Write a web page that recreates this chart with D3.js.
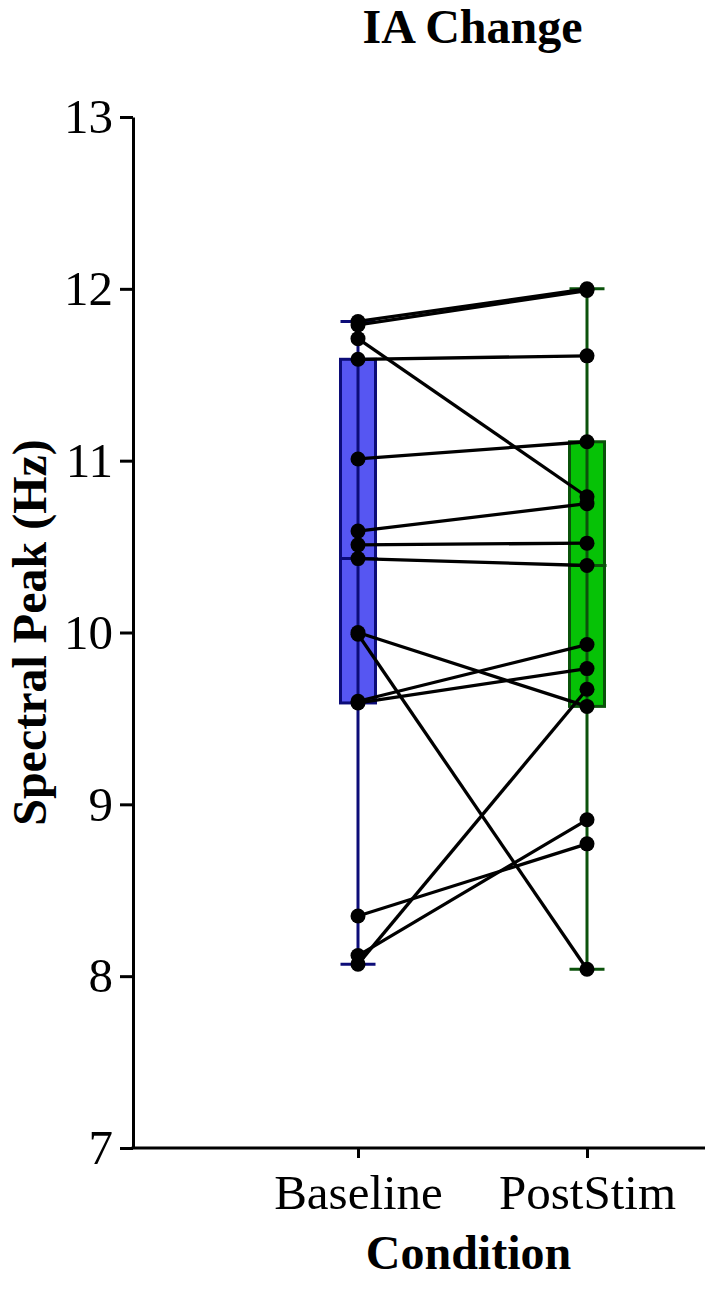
<!DOCTYPE html>
<html lang="en">
	<head>
		<meta charset="utf-8">
		<title>IA Change</title>
		<script src="https://cdn.jsdelivr.net/npm/d3@7"></script>
		<style type="text/css">
			body { margin: 0; background: #fff; }
			text { font-family: "Liberation Serif", "Times New Roman", serif; fill: #000; }
		</style>
	</head>
	<body>

		<div id="chart"></div>

		<script type="text/javascript">

		// paired subjects: baseline[i] -> postStim[i]
		var categories = ["Baseline", "PostStim"]
		var baseline = [11.81, 11.79, 11.71, 11.59, 11.01, 10.59, 10.51, 10.43, 10.00, 9.99, 9.60, 9.59, 8.35, 8.12, 8.07]
		var postStim = [12.00, 11.99, 10.79, 11.61, 11.11, 10.75, 10.52, 10.39, 9.57, 8.04, 9.93, 9.79, 8.77, 8.91, 9.67]
		var yTicks = [7, 8, 9, 10, 11, 12, 13]
		var boxFill = ["#5656f2", "#06c206"]
		var boxStroke = ["#0c0c78", "#0b520b"]

		drawChart()

		function drawChart() {
			var w = 709
			var h = 1300
			var padLeft = 133
			var padRight = 705
			var plotTop = 117
			var plotBottom = 1148
			var boxW = 35
			var r = 7.5

			var svg = d3.select("#chart")
					.append("svg")
					.attr("width", w)
					.attr("height", h)

			var yScale = d3.scaleLinear()
					.domain([7, 13])
					.range([plotBottom, plotTop])

			var xScale = d3.scalePoint()
					.domain(categories)
					.range([358, 587])

			// quartiles the (n+1)p way
			function quart(arr, p) {
				var s = arr.slice().sort(d3.ascending)
				var pos = (s.length + 1) * p - 1
				var lo = Math.floor(pos), hi = Math.ceil(pos)
				return s[lo] + (s[hi] - s[lo]) * (pos - lo)
			}

			var groups = [baseline, postStim].map(function(vals, i) {
				return {
					cat: categories[i],
					min: d3.min(vals),
					q1: quart(vals, 0.25),
					med: quart(vals, 0.5),
					q3: quart(vals, 0.75),
					max: d3.max(vals),
					i: i
				}
			})

			var box = svg.selectAll("g.box")
					.data(groups)
					.enter()
					.append("g")
					.attr("class", "box")

			box.append("rect")
					.attr("x", function(d) { return xScale(d.cat) - boxW / 2 })
					.attr("y", function(d) { return yScale(d.q3) })
					.attr("width", boxW)
					.attr("height", function(d) { return yScale(d.q1) - yScale(d.q3) })
					.style("fill", function(d) { return boxFill[d.i] })
					.style("stroke", function(d) { return boxStroke[d.i] })
					.style("stroke-width", 3)

			box.append("line")
					.attr("x1", function(d) { return xScale(d.cat) })
					.attr("x2", function(d) { return xScale(d.cat) })
					.attr("y1", function(d) { return yScale(d.min) })
					.attr("y2", function(d) { return yScale(d.max) })
					.style("stroke", function(d) { return boxStroke[d.i] })
					.style("stroke-width", 3)

			;["min", "med", "max"].forEach(function(k) {
				box.append("line")
						.attr("x1", function(d) { return xScale(d.cat) - boxW / 2 })
						.attr("x2", function(d) { return xScale(d.cat) + boxW / 2 + (k == "med" ? 2 : 0) })
						.attr("y1", function(d) { return yScale(d[k]) })
						.attr("y2", function(d) { return yScale(d[k]) })
						.style("stroke", function(d) { return boxStroke[d.i] })
						.style("stroke-width", 3)
			})

			// subject lines
			svg.selectAll("line.pair")
					.data(baseline)
					.enter()
					.append("line")
					.attr("class", "pair")
					.attr("x1", xScale("Baseline"))
					.attr("x2", xScale("PostStim"))
					.attr("y1", function(d) { return yScale(d) })
					.attr("y2", function(d, i) { return yScale(postStim[i]) })
					.style("stroke", "#000")
					.style("stroke-width", 3.3)

			svg.selectAll("circle.b")
					.data(baseline)
					.enter()
					.append("circle")
					.attr("class", "b")
					.attr("cx", xScale("Baseline"))
					.attr("cy", function(d) { return yScale(d) })
					.attr("r", r)
					.style("fill", "#000")

			svg.selectAll("circle.p")
					.data(postStim)
					.enter()
					.append("circle")
					.attr("class", "p")
					.attr("cx", xScale("PostStim"))
					.attr("cy", function(d) { return yScale(d) })
					.attr("r", r)
					.style("fill", "#000")

			// axes
			var yAxis = d3.axisLeft(yScale)
					.tickValues(yTicks)
					.tickFormat(d3.format("d"))
					.tickSize(13)
					.tickSizeOuter(0)
					.tickPadding(7)

			var gy = svg.append("g")
					.attr("transform", "translate(" + padLeft + ",0)")
					.call(yAxis)
			gy.selectAll("text").style("font-size", "49px").style("font-family", "Liberation Serif")
			gy.selectAll("line, path").style("stroke", "#000").style("stroke-width", 3)

			var xAxis = d3.axisBottom(xScale)
					.tickSize(10)
					.tickSizeOuter(0)
					.tickPadding(16)

			var gx = svg.append("g")
					.attr("transform", "translate(0," + plotBottom + ")")
					.call(xAxis)
			gx.select(".domain").remove()
			gx.selectAll("text").style("font-size", "49px").style("font-family", "Liberation Serif")
			gx.selectAll("line").style("stroke", "#000").style("stroke-width", 3)

			svg.append("line")
					.attr("x1", padLeft - 1.5)
					.attr("x2", padRight)
					.attr("y1", plotBottom)
					.attr("y2", plotBottom)
					.style("stroke", "#000")
					.style("stroke-width", 3)

			// titles
			var mid = (xScale("Baseline") + xScale("PostStim")) / 2

			svg.append("text")
					.attr("x", mid)
					.attr("y", 43)
					.attr("text-anchor", "middle")
					.style("font-size", "48px")
					.style("font-weight", "bold")
					.text("IA Change")

			svg.append("text")
					.attr("x", mid - 4)
					.attr("y", 1269)
					.attr("text-anchor", "middle")
					.style("font-size", "48px")
					.style("font-weight", "bold")
					.text("Condition")

			svg.append("text")
					.attr("transform", "translate(46," + yScale(10) + ") rotate(-90)")
					.attr("text-anchor", "middle")
					.style("font-size", "48px")
					.style("font-weight", "bold")
					.text("Spectral Peak (Hz)")
		}

		</script>
	</body>
</html>
